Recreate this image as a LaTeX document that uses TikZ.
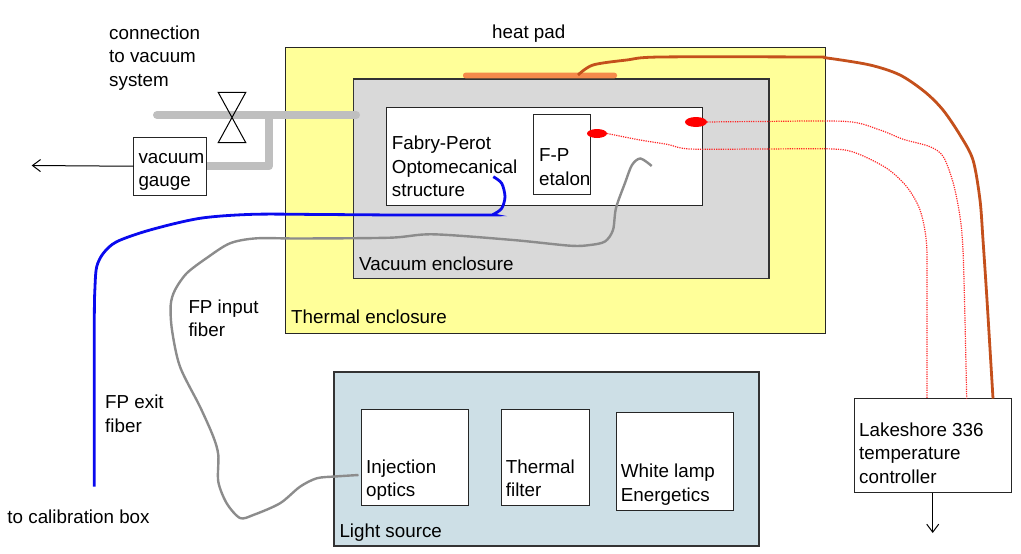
\documentclass[tikz,border=0pt]{standalone}
\usepackage{fontspec}
\setmainfont{Liberation Sans}
\usetikzlibrary{arrows.meta,calc,shapes.geometric}
\definecolor{thermalY}{HTML}{FFFF99}
\definecolor{vacG}{HTML}{D9D9D9}
\definecolor{lightB}{HTML}{CDDFE6}
\definecolor{pipeG}{HTML}{BFBFBF}
\definecolor{padO}{HTML}{F58A4B}
\definecolor{wireBr}{HTML}{C4501C}
\definecolor{fibB}{HTML}{0A0AEE}
\definecolor{fibG}{HTML}{8C8C8C}
\begin{document}
\begin{tikzpicture}[x=1pt,y=-1pt,
  box/.style={draw=black!85, line width=1pt, anchor=north west, inner sep=0, outer sep=0},
  lbl/.style={anchor=base west, align=left, inner sep=0, font=\fontsize{18.8}{23.5}\selectfont},
  pipe/.style={pipeG, line width=8pt, line cap=round, line join=round},
  reddot/.style={red!85, line width=1.2pt, dash pattern=on 1.2pt off 1.1pt},
  fiberB/.style={fibB, line width=2.8pt},
  fiberG/.style={fibG, line width=2.4pt},
  wire/.style={wireBr, line width=2.8pt},
  arr/.style={black, line width=1pt, -{Straight Barb[length=8pt,width=12pt]}},
  spot/.style={ellipse, fill=red, inner sep=0}]
\useasboundingbox (0,0) rectangle (1021,554);

% enclosures
\node[box, fill=thermalY, minimum width=540.5pt, minimum height=285.5pt] (thermal) at (285,47.5) {};
\node[box, fill=vacG, draw=black!80, line width=1.4pt, minimum width=415.5pt, minimum height=199.5pt] (vacuum) at (353.5,79) {};
\node[box, fill=white, minimum width=316pt, minimum height=98pt] (fpbox) at (386,107.5) {};
\node[box, fill=white, minimum width=57pt, minimum height=79.5pt] (etalon) at (533.5,114.5) {};
\node[fill=padO, rounded corners=2.5pt, minimum width=154pt, minimum height=5.6pt, inner sep=0] (heatpad) at (540,75.5) {};

% vacuum connection
\node[box, fill=white, minimum width=73pt, minimum height=58.5pt] (gauge) at (133.5,137) {};
\coordinate (pipeL) at (157,115);
\coordinate (pipeR) at (356,115);
\coordinate (tee) at (269,115);
\draw[pipe] (pipeL) -- (pipeR);
\draw[pipe, line cap=butt] (tee) -- (tee |- gauge.east) -- (gauge.east);
\coordinate (valve) at (232,117.5);
\draw[black, line width=1pt, line join=miter]
  ($(valve)+(-13.8,-25.2)$) -- ($(valve)+(13.8,-25.2)$) -- ($(valve)+(-13.8,25.2)$) -- ($(valve)+(13.8,25.2)$) -- cycle;
\coordinate (vacout) at (31.7,165.5);
\draw[arr] (gauge.west |- gauge.east) -- (vacout);

% light source
\node[box, fill=lightB, draw=black!80, line width=1.2pt, minimum width=425pt, minimum height=174pt] (light) at (334,372) {};
\node[box, fill=white, minimum width=107.5pt, minimum height=96.5pt] (inj) at (361,409) {};
\node[box, fill=white, minimum width=88pt, minimum height=96.5pt] (filt) at (501,409) {};
\node[box, fill=white, minimum width=117.5pt, minimum height=98pt] (lamp) at (616,412) {};

% lakeshore
\node[box, fill=white, line width=1.2pt, minimum width=157pt, minimum height=94pt] (lake) at (854.5,398.5) {};
\coordinate (ctrlout) at (932.7,533);
\draw[arr] (lake.south west -| ctrlout) -- (ctrlout);

% sensors
\node[spot, minimum width=20pt, minimum height=9pt] (e1) at (597,133.5) {};
\node[spot, minimum width=22pt, minimum height=10pt] (e2) at (696,122) {};
\coordinate (lA) at ($(lake.north west)+(72.5,0)$);
\coordinate (lB) at ($(lake.north west)+(112.2,0)$);
\coordinate (lW) at ($(lake.north west)+(138.5,0)$);
\draw[reddot] plot[smooth, tension=0.5] coordinates {(e1.east) (640,140) (667,144.3) (690,149) (760,149) (833,149) (856.7,153.3) (886.7,168.3) (906.7,186.7) (920,210) (926.5,243) (927,300) (lA)};
\draw[reddot] plot[smooth, tension=0.5] coordinates {(e2.east) (760,121.5) (846.7,121.5) (880,130) (903.3,139.3) (930,146.7) (943.3,156.7) (953.3,183.3) (960,216.7) (963,250) (965,320) (lB)};

% heat pad wire
\coordinate (hpw) at (578,75);
\draw[wire] plot[smooth, tension=0.5] coordinates {(hpw) (593,65) (626.7,60) (660,57) (810,57) (827,58) (870,65) (900,75) (925,92) (943,110) (960,135) (973,160) (980,200) (983,240) (987,300) (lW)};

% fibers
\coordinate (bin) at (493.3,176.7);
\coordinate (bout) at (94.3,486.7);
\draw[fiberB] plot[smooth, tension=0.5] coordinates {(bin) (501.7,183.3) (505,196.7) (501.7,208.3) (493.3,214.3) (486.7,215) (400,215) (321.7,214.5) (253.3,214.3) (200,218.3) (150,230) (116.7,241.7) (103.3,253.3) (96.7,266.7) (95,286.7) (94.3,323.3) (bout)};
\coordinate (gin) at (651.7,166);
\coordinate (gend) at ($(inj.south west)+(-2.5,-30.5)$);
\draw[fiberG] plot[smooth, tension=0.5] coordinates {(gin) (640.5,158.5) (632,165) (625,183) (616,208) (613,230) (605,241.5) (590,245) (570,245.7) (513,240) (433,234.3) (390,237.7) (300,238.5) (256.7,238.3) (230,243.3) (206.7,258) (186.7,273.3) (175,290) (170.7,305) (172,330) (180,366.7) (200,406.7) (213.3,436.7) (218.3,455) (218.3,481.7) (226.7,503.3) (240,518) (253.3,515) (280,503.3) (300,486.7) (316.7,478.3) (335,476.5) (gend)};

% labels (base anchor = baseline of the last line)
\node[lbl] (tconn) at (109,86.3) {connection\\to vacuum\\system};
\node[lbl] (theat) at (492,38) {heat pad};
\node[lbl] (tgauge) at (138.3,186.5) {vacuum\\gauge};
\node[lbl] (tfp) at (391.7,196.8) {Fabry-Perot\\Optomecanical\\structure};
\node[lbl] (tet) at (539,185) {F-P\\etalon};
\node[lbl] (tvac) at (359,270) {Vacuum enclosure};
\node[lbl] (tth) at (291,323.3) {Thermal enclosure};
\node[lbl] (tin) at (188.3,336.5) {FP input\\fiber};
\node[lbl] (tex) at (105,432.3) {FP exit\\fiber};
\node[lbl] (tcal) at (7.3,523.3) {to calibration box};
\node[lbl] (tinj) at (366,496.7) {Injection\\optics};
\node[lbl] (tfilt) at (505.7,496.8) {Thermal\\filter};
\node[lbl] (tlamp) at (620.7,501.3) {White lamp\\Energetics};
\node[lbl] (tls) at (339.3,537.3) {Light source};
\node[lbl] (tlake) at (859,483.3) {Lakeshore 336\\temperature\\controller};
\end{tikzpicture}
\end{document}
